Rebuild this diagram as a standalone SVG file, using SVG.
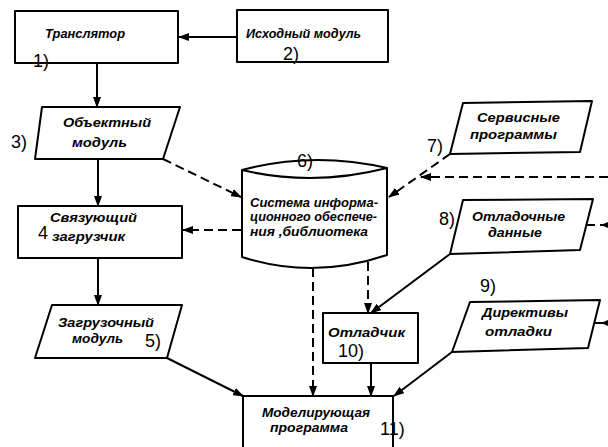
<svg xmlns="http://www.w3.org/2000/svg" width="608" height="447" viewBox="0 0 608 447">
<style>
.s{fill:#fff;stroke:#000;stroke-width:2;stroke-linejoin:round}
.c{fill:none;stroke:#000;stroke-width:2}
.d{fill:none;stroke:#000;stroke-width:2;stroke-dasharray:9 5}
.t{font-family:"Liberation Sans",Arial,sans-serif;font-style:italic;font-weight:bold;font-size:12.5px;fill:#000}
.n{font-family:"Liberation Sans",Arial,sans-serif;font-size:18px;fill:#000}
</style>
<defs>
<marker id="a" markerWidth="11" markerHeight="8" refX="10" refY="4" orient="auto" markerUnits="userSpaceOnUse">
<path d="M0,0 L11,4 L0,8 Z" fill="#000"/>
</marker>
</defs>
<rect width="608" height="447" fill="#fff"/>

<g id="connectors">
<line class="c" x1="237" y1="37" x2="179" y2="37" marker-end="url(#a)"/>
<line class="c" x1="97" y1="63" x2="97" y2="107" marker-end="url(#a)"/>
<line class="c" x1="98" y1="159" x2="98" y2="206" marker-end="url(#a)"/>
<line class="c" x1="98" y1="258" x2="98" y2="305" marker-end="url(#a)"/>
<line class="d" x1="163" y1="159" x2="241" y2="197" marker-end="url(#a)"/>
<line class="d" x1="241" y1="230" x2="183" y2="230" marker-end="url(#a)"/>
<line class="d" x1="450" y1="154" x2="389" y2="197" marker-end="url(#a)"/>
<line class="d" x1="608" y1="177" x2="421" y2="177" marker-end="url(#a)"/>
<line class="d" x1="586" y1="225" x2="608" y2="225"/>
<path d="M601,225 L608,222 L608,228 Z" fill="#000"/>
<line class="d" x1="594" y1="323" x2="608" y2="323"/>
<path d="M601,323 L608,320 L608,326 Z" fill="#000"/>
<line class="c" x1="450" y1="254" x2="371" y2="313" marker-end="url(#a)"/>
<line class="d" x1="368" y1="262" x2="368" y2="313" marker-end="url(#a)"/>
<line class="d" x1="313" y1="268" x2="313" y2="396" marker-end="url(#a)"/>
<line class="c" x1="371" y1="363" x2="371" y2="396" marker-end="url(#a)"/>
<line class="c" x1="167" y1="358" x2="243" y2="396" marker-end="url(#a)"/>
<line class="c" x1="452" y1="352" x2="394" y2="396" marker-end="url(#a)"/>
</g>

<g id="n1">
<rect class="s" x="15" y="11" width="163" height="52"/>
<text class="t" x="45" y="38" font-weight="normal" font-size="14" textLength="80" lengthAdjust="spacingAndGlyphs">Транслятор</text>
<text class="n" x="33" y="67">1)</text>
</g>

<g id="n2">
<rect class="s" x="237" y="10" width="151" height="52"/>
<text class="t" x="246" y="38" textLength="115" lengthAdjust="spacingAndGlyphs">Исходный модуль</text>
<text class="n" x="283" y="60">2)</text>
</g>

<g id="n3">
<polygon class="s" points="42,107 180,107 163,159 35,159"/>
<text class="t" x="63" y="127" font-weight="normal" textLength="88" lengthAdjust="spacingAndGlyphs">Объектный</text>
<text class="t" x="72" y="147" font-weight="normal" textLength="55" lengthAdjust="spacingAndGlyphs">модуль</text>
<text class="n" x="11" y="148">3)</text>
</g>

<g id="n4">
<rect class="s" x="18" y="206" width="164" height="52"/>
<text class="n" x="38" y="239" font-size="17">4</text>
<text class="t" x="50" y="222" font-weight="normal" textLength="87" lengthAdjust="spacingAndGlyphs">Связующий</text>
<text class="t" x="52" y="241" font-weight="normal" textLength="73" lengthAdjust="spacingAndGlyphs">загрузчик</text>
</g>

<g id="n5">
<polygon class="s" points="52,305 182,305 167,358 35,358"/>
<text class="t" x="58" y="327" font-weight="normal" textLength="96" lengthAdjust="spacingAndGlyphs">Загрузочный</text>
<text class="t" x="72" y="343" textLength="51" lengthAdjust="spacingAndGlyphs">модуль</text>
<text class="n" x="145" y="347">5)</text>
</g>

<g id="n6">
<path class="s" d="M242,170 Q313,151 387,168 L387,255 Q313,280 242,257 Z"/>
<path class="c" d="M242,170 Q313,187 387,168"/>
<text class="t" x="250" y="207" textLength="128" lengthAdjust="spacingAndGlyphs">Система информа-</text>
<text class="t" x="250" y="221" textLength="127" lengthAdjust="spacingAndGlyphs">ционного обеспече-</text>
<text class="t" x="250" y="236" textLength="118" lengthAdjust="spacingAndGlyphs">ния ,библиотека</text>
<text class="n" x="297" y="167">6)</text>
</g>

<g id="n7">
<polygon class="s" points="463,103 592,101 580,152 450,154"/>
<text class="t" x="477" y="122" textLength="83" lengthAdjust="spacingAndGlyphs">Сервисные</text>
<text class="t" x="470" y="139" textLength="87" lengthAdjust="spacingAndGlyphs">программы</text>
<text class="n" x="427" y="152">7)</text>
</g>

<g id="n8">
<polygon class="s" points="463,200 593,199 580,250 450,254"/>
<text class="t" x="472" y="221" textLength="93" lengthAdjust="spacingAndGlyphs">Отладочные</text>
<text class="t" x="488" y="237" textLength="54" lengthAdjust="spacingAndGlyphs">данные</text>
<text class="n" x="439" y="225">8)</text>
</g>

<g id="n9">
<polygon class="s" points="470,302 600,300 588,348 452,352"/>
<text class="t" x="482" y="317" textLength="86" lengthAdjust="spacingAndGlyphs">Директивы</text>
<text class="t" x="485" y="336" textLength="67" lengthAdjust="spacingAndGlyphs">отладки</text>
<text class="n" x="480" y="292">9)</text>
</g>

<g id="n10">
<rect class="s" x="323" y="313" width="95" height="50"/>
<text class="t" x="328" y="337" textLength="77" lengthAdjust="spacingAndGlyphs">Отладчик</text>
<text class="n" x="338" y="357">10)</text>
</g>

<g id="n11">
<rect class="s" x="243" y="396" width="150" height="52"/>
<text class="t" x="262" y="417" textLength="108" lengthAdjust="spacingAndGlyphs">Моделирующая</text>
<text class="t" x="270" y="432" textLength="78" lengthAdjust="spacingAndGlyphs">программа</text>
<text class="n" x="380" y="435">11)</text>
</g>
</svg>
